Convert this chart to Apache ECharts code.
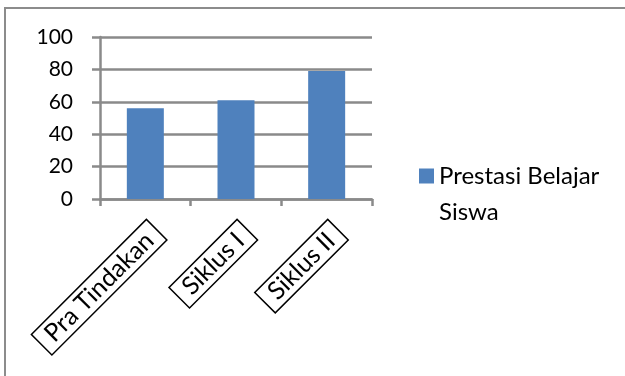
<!DOCTYPE html>
<html>
<head>
<meta charset="UTF-8">
<title></title>
<style>
  html, body { margin: 0; padding: 0; background: #fff; }
  #frame { position: absolute; left: 4px; top: 7px; width: 700px; height: 500px; border: 2px solid #8c8c8c; }
  #main { position: absolute; left: 0; top: 0; width: 625px; height: 376px; }
</style>
<script src="https://cdn.jsdelivr.net/npm/echarts@6/dist/echarts.min.js"></script>
</head>
<body>
<div id="frame"></div>
<div id="main"></div>
<script>
// data
var categories = ['Pra Tindakan', 'Siklus I', 'Siklus II'];
var seriesName = 'Prestasi Belajar Siswa';
var values = [56, 61, 79];
var yTicks = [0, 20, 40, 60, 80, 100];

var myChart = echarts.init(document.getElementById('main'));
var fontName = 'Lato';
var gray = '#8a8a8a';

var option = {
    animation: false,
    grid: { left: 100, right: 253, top: 37, bottom: 177, containLabel: false },
    legend: {
        left: 414,
        top: 117,
        itemWidth: 15,
        itemHeight: 15,
        icon: 'rect',
        data: [seriesName],
        // empty first line keeps the icon level with the first text line
        formatter: function (name) {
            return '{e| }\n' + name.replace('Belajar ', 'Belajar\n');
        },
        textStyle: {
            fontFamily: fontName, fontSize: 24, color: '#000', lineHeight: 36,
            rich: { e: { fontSize: 24, lineHeight: 36 } }
        }
    },
    xAxis: {
        type: 'category',
        data: categories,
        axisLine: { lineStyle: { color: gray, width: 2.5 } },
        axisTick: { show: true, length: 7, lineStyle: { color: gray, width: 2.5 } },
        axisLabel: {
            interval: 0,
            rotate: 45,
            margin: 42,
            padding: [0, -16, 0, 0],
            formatter: function (v) { return '{box|' + v + '}'; },
            rich: {
                box: {
                    fontFamily: fontName, fontSize: 25, lineHeight: 26, color: '#000',
                    borderColor: '#000', borderWidth: 1.5,
                    padding: [2, 10, 2, 10]
                }
            }
        }
    },
    yAxis: {
        type: 'value',
        min: yTicks[0],
        max: yTicks[yTicks.length - 1],
        interval: yTicks[1] - yTicks[0],
        axisLine: { show: true, lineStyle: { color: gray, width: 2.5 } },
        axisTick: { show: true, length: 8, lineStyle: { color: gray, width: 2.5 } },
        splitLine: { lineStyle: { color: gray, width: 2.5 } },
        axisLabel: { fontFamily: fontName, fontSize: 21, color: '#000', margin: 27 }
    },
    series: [{
        name: seriesName,
        type: 'bar',
        barWidth: 37,
        itemStyle: { color: '#4F81BD' },
        data: values
    }]
};

myChart.setOption(option);
</script>
</body>
</html>
